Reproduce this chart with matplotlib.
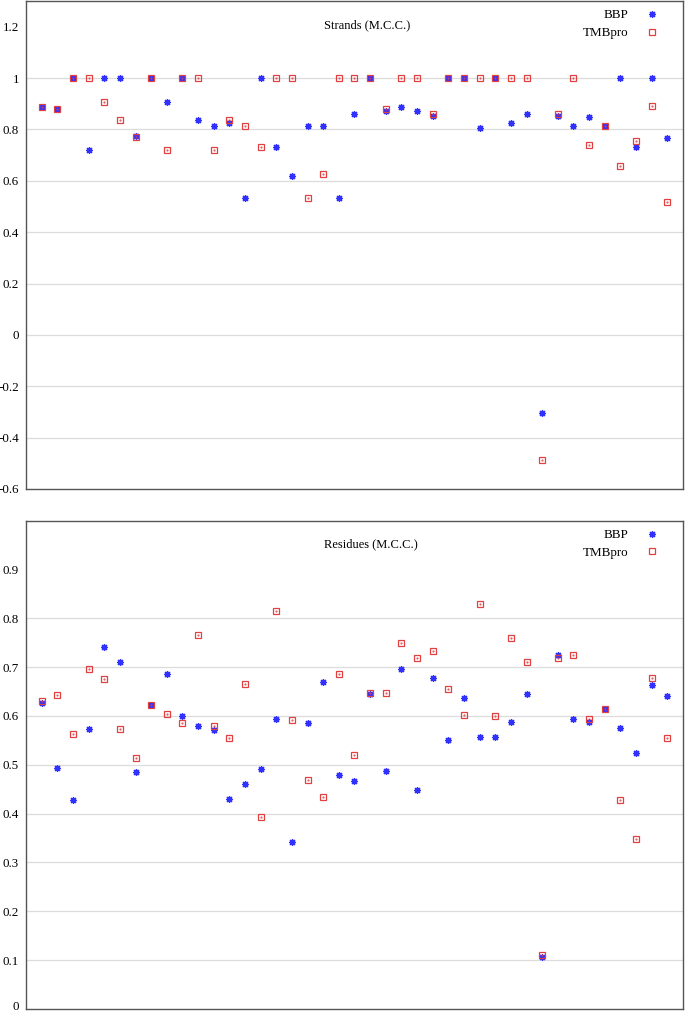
import numpy as np
import matplotlib
matplotlib.use("Agg")
import matplotlib.pyplot as plt
from matplotlib.ticker import FixedLocator, NullFormatter
from matplotlib.transforms import ScaledTranslation

# one entry per protein (x = 1..41)
strands_bbp = [0.886, 0.878, 1.0, 0.719, 1.0, 1.0, 0.776, 1.0, 0.907, 1.0,
               0.838, 0.814, 0.824, 0.534, 1.0, 0.732, 0.619, 0.814, 0.814, 0.534,
               0.861, 1.0, 0.870, 0.886, 0.870, 0.854, 1.0, 1.0, 0.804, 1.0,
               0.824, 0.859, -0.304, 0.854, 0.814, 0.850, 0.814, 1.0, 0.731, 1.0,
               0.766]
strands_tmb = [0.886, 0.878, 1.0, 1.0, 0.907, 0.837, 0.771, 1.0, 0.719, 1.0,
               1.0, 0.719, 0.838, 0.814, 0.732, 1.0, 1.0, 0.534, 0.627, 1.0,
               1.0, 1.0, 0.879, 1.0, 1.0, 0.860, 1.0, 1.0, 1.0, 1.0,
               1.0, 1.0, -0.489, 0.861, 1.0, 0.740, 0.814, 0.659, 0.756, 0.891,
               0.518]
residues_bbp = [0.627, 0.494, 0.428, 0.574, 0.741, 0.710, 0.485, 0.622, 0.687, 0.601,
                0.579, 0.571, 0.429, 0.461, 0.492, 0.593, 0.342, 0.585, 0.670, 0.480,
                0.466, 0.645, 0.488, 0.697, 0.448, 0.678, 0.551, 0.637, 0.556, 0.557,
                0.587, 0.646, 0.106, 0.725, 0.593, 0.587, 0.614, 0.575, 0.525, 0.663,
                0.640]
residues_tmb = [0.630, 0.643, 0.563, 0.697, 0.676, 0.573, 0.514, 0.622, 0.605, 0.585,
                0.765, 0.580, 0.554, 0.666, 0.393, 0.816, 0.591, 0.468, 0.434, 0.687,
                0.520, 0.647, 0.648, 0.749, 0.719, 0.734, 0.655, 0.602, 0.829, 0.601,
                0.759, 0.710, 0.111, 0.719, 0.724, 0.594, 0.614, 0.428, 0.348, 0.678,
                0.554]

panels = [
    ("Strands (M.C.C.)", strands_bbp, strands_tmb, (-0.6, 1.3),
     [1.0, 0.8, 0.6, 0.4, 0.2, 0.0, -0.2, -0.4, -0.6], 1.2,
     [0.038, 0.5173, 0.959, 0.4817]),
    ("Residues (M.C.C.)", residues_bbp, residues_tmb, (0.0, 1.0),
     [0.8, 0.7, 0.6, 0.5, 0.4, 0.3, 0.2, 0.1, 0.0], 0.9,
     [0.038, 0.004, 0.959, 0.482]),
]

SERIF = ["Liberation Serif", "DejaVu Serif"]
FS = 9.4

fig = plt.figure(figsize=(6.85, 10.13), dpi=100)

for title, bbp, tmb, ylim, grid_vals, top_tick, rect in panels:
    ax = fig.add_axes(rect)
    x = np.arange(1, len(bbp) + 1)
    ax.plot(x, bbp, linestyle="none", marker=(8, 2, 0), markersize=5,
            markeredgewidth=0.9, color="#3030ff", label="BBP", zorder=3)
    ax.plot(x, tmb, linestyle="none", marker="s", markersize=4.6,
            markerfacecolor="none", markeredgewidth=0.9, color="#e04040",
            label="TMBpro", zorder=3)
    ax.plot(x, tmb, linestyle="none", marker=".", markersize=1.0,
            color="#e04040", zorder=3)

    ax.set_xlim(0, len(bbp) + 1)
    ax.set_ylim(*ylim)
    ax.set_xticks([])

    for g in grid_vals:
        if g != ylim[0]:
            ax.axhline(g, color="#dcdcdc", linewidth=0.9, zorder=1)

    ticks = grid_vals + [top_tick]
    ax.set_yticks(ticks)
    ax.set_yticklabels(["%g" % t for t in ticks], fontfamily=SERIF, fontsize=FS)
    ax.tick_params(axis="y", which="major", length=0, pad=5)
    ax.yaxis.set_minor_locator(FixedLocator([top_tick]))
    ax.yaxis.set_minor_formatter(NullFormatter())
    ax.tick_params(axis="y", which="minor", direction="in", length=5,
                   width=0.9, color="#444444", left=True, right=True)

    # keep the lowest label of the bottom panel inside the canvas
    if ylim[0] == 0.0:
        for lab in ax.get_yticklabels():
            if lab.get_text() == "0":
                lab.set_transform(lab.get_transform() +
                                  ScaledTranslation(0, 2.5 / 72, fig.dpi_scale_trans))

    for s in ax.spines.values():
        s.set_color("#555555")
        s.set_linewidth(1.0)

    ax.text(0.4536, 0.951, title, transform=ax.transAxes, ha="left",
            va="center", fontfamily=SERIF, fontsize=9.0)

    ax.legend(loc="upper right", bbox_to_anchor=(0.981, 1.007),
              frameon=False, markerfirst=False, numpoints=1,
              handlelength=1.0, handletextpad=1.35, labelspacing=0.42,
              prop={"family": SERIF, "size": FS})

fig.savefig("out.png", dpi=100)
